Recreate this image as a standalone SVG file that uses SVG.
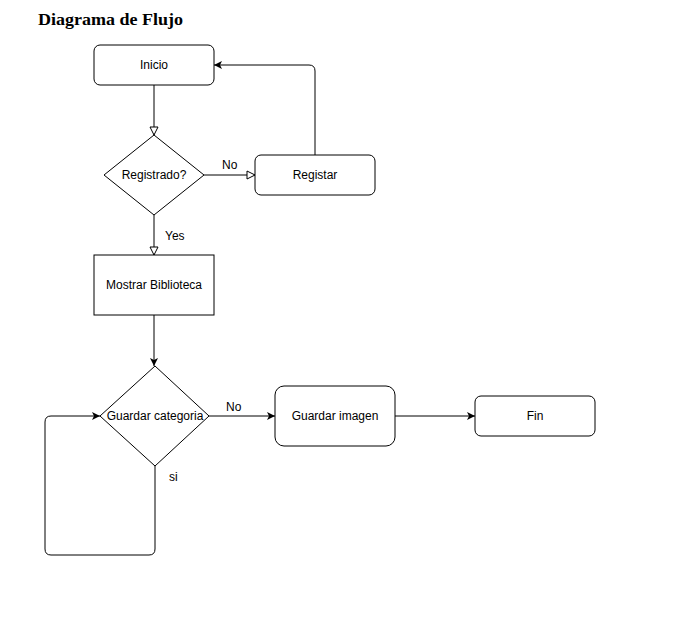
<svg xmlns="http://www.w3.org/2000/svg" width="691" height="627" viewBox="0 0 691 627">
<style>
.n{fill:#fff;stroke:#000;stroke-width:1}
.t{font-family:"Liberation Sans",Arial,sans-serif;font-size:12px;fill:#000;text-anchor:middle;dominant-baseline:central}
.l{font-family:"Liberation Sans",Arial,sans-serif;font-size:12px;fill:#000}
.c{fill:none;stroke:#000;stroke-width:1}
</style>
<defs>
<marker id="open" markerWidth="12" markerHeight="12" refX="9" refY="5" orient="auto" markerUnits="userSpaceOnUse" viewBox="0 0 12 10">
<path d="M1,1 L9,5 L1,9 Z" fill="#fff" stroke="#000" stroke-width="1"/>
</marker>
<marker id="fill" markerWidth="10" markerHeight="10" refX="8" refY="4" orient="auto" markerUnits="userSpaceOnUse" viewBox="0 0 10 8">
<path d="M0,0 L8,4 L0,8 L2,4 Z" fill="#000"/>
</marker>
</defs>
<rect width="691" height="627" fill="#fff"/>
<text x="38" y="25" font-family="'Liberation Serif','DejaVu Serif',serif" font-weight="bold" font-size="17" textLength="145" lengthAdjust="spacingAndGlyphs" fill="#000">Diagrama de Flujo</text>
<g id="connectors">
<path class="c" d="M154,85 V135" marker-end="url(#open)"/>
<path class="c" d="M204,175 H255" marker-end="url(#open)"/>
<path class="c" d="M315,155 V71 Q315,65 309,65 H214" marker-end="url(#fill)"/>
<path class="c" d="M154,215 V255" marker-end="url(#open)"/>
<path class="c" d="M154,315 V366" marker-end="url(#fill)"/>
<path class="c" d="M209,416 H275" marker-end="url(#fill)"/>
<path class="c" d="M395,416 H475" marker-end="url(#fill)"/>
<path class="c" d="M155,466 V549 Q155,555 149,555 H51 Q45,555 45,549 V422 Q45,416 51,416 H100" marker-end="url(#fill)"/>
<text class="l" x="222" y="169">No</text>
<text class="l" x="165" y="240">Yes</text>
<text class="l" x="226" y="411">No</text>
<text class="l" x="169" y="481">si</text>
</g>
<g id="inicio"><rect class="n" x="94" y="45" width="120" height="40" rx="6"/><text class="t" x="154" y="65">Inicio</text></g>
<g id="registrado"><path class="n" d="M154,135 L204,175 L154,215 L104,175 Z"/><text class="t" x="154" y="175">Registrado?</text></g>
<g id="registar"><rect class="n" x="255" y="155" width="120" height="40" rx="6"/><text class="t" x="315" y="175">Registar</text></g>
<g id="mostrar"><rect class="n" x="94" y="255" width="120" height="60"/><text class="t" x="154" y="285">Mostrar Biblioteca</text></g>
<g id="guardarcat"><path class="n" d="M155,366 L209,416 L155,466 L100,416 Z"/><text class="t" x="155" y="416">Guardar categoria</text></g>
<g id="guardarimg"><rect class="n" x="275" y="386" width="120" height="60" rx="9"/><text class="t" x="335" y="416">Guardar imagen</text></g>
<g id="fin"><rect class="n" x="475" y="396" width="120" height="40" rx="6"/><text class="t" x="535" y="416">Fin</text></g>
</svg>
